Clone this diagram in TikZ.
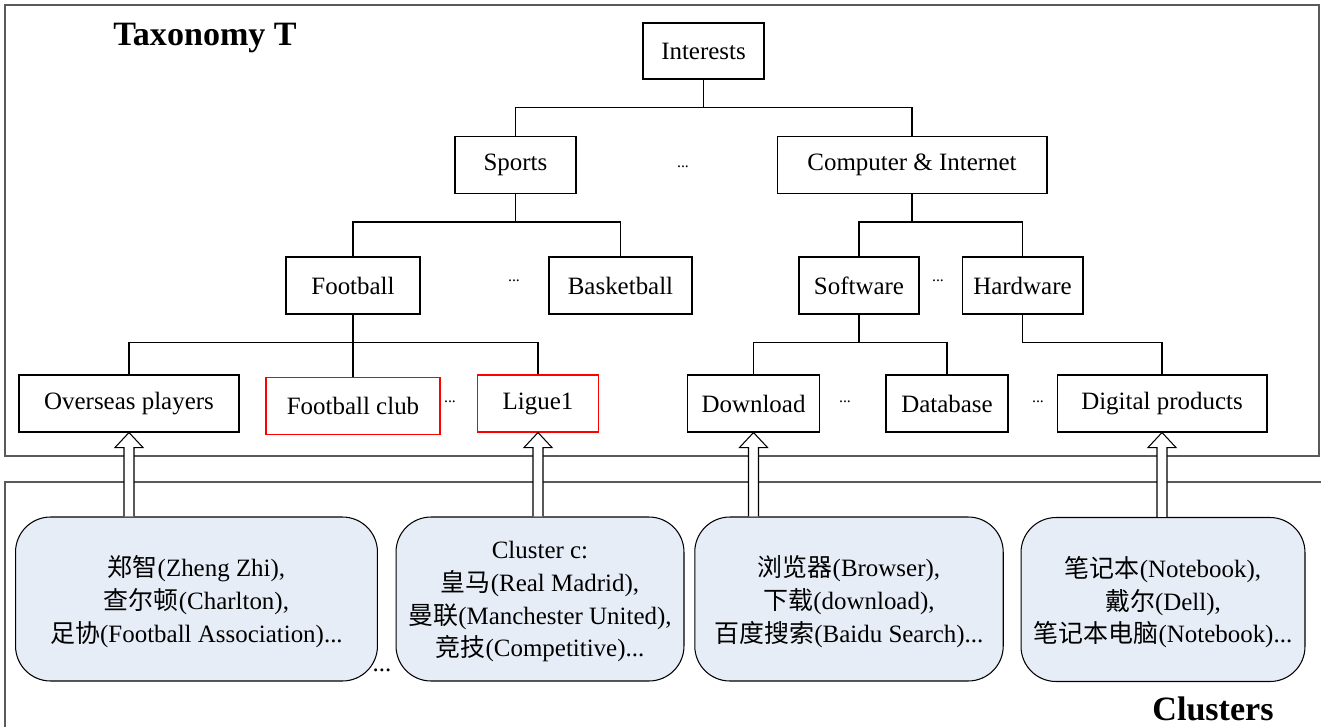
\documentclass[tikz,border=0pt]{standalone}
\usepackage{fontspec}
\setmainfont{Liberation Serif}
\newfontfamily\cjk{Noto Sans CJK SC}
\newcommand\zh[1]{{\cjk #1}}
\usetikzlibrary{calc}
\definecolor{clusterfill}{RGB}{231,237,247}
\definecolor{framegray}{RGB}{90,90,90}
\tikzset{
  taxbox/.style={draw, line width=0.6pt, minimum height=1.14cm, inner sep=0pt, font=\fontsize{14.2}{17}\selectfont},
  redbox/.style={taxbox, draw=red},
  clusterbox/.style={draw, line width=0.6pt, fill=clusterfill, rounded corners=0.7cm, minimum height=3.28cm,
    inner sep=0pt, align=center, font=\fontsize{14.2}{18.7}\selectfont, text depth=0pt},
  treeline/.style={line width=0.6pt},
  dots/.style={inner sep=0pt, font=\small},
  title/.style={anchor=base, font=\fontsize{19.4}{22}\selectfont\bfseries}
}
\newcommand\hollowarrow[2]{%
  \draw[line width=0.6pt, fill=white]
    ($(#1.north -| #2.south)+(-5,0)$) -- ($(#2.south)+(-5,15)$) -- ($(#2.south)+(-14,15)$)
    -- (#2.south) -- ($(#2.south)+(14,15)$) -- ($(#2.south)+(5,15)$)
    -- ($(#1.north -| #2.south)+(5,0)$);}
\begin{document}
\begin{tikzpicture}[x=0.02cm, y=-0.02cm]
  \useasboundingbox (0,0) rectangle (1321,727);
  \draw[framegray, line width=0.6pt] (5,5) rectangle (1319,456);
  \draw[framegray, line width=0.6pt] (5,727) -- (5,482) -- (1321,482);

  \node[title] (taxtitle) at (205,45) {Taxonomy T};
  \node[title] (clustitle) at (1213,720) {Clusters};

  \node[taxbox, minimum width=2.42cm, minimum height=1.12cm] (interests) at (703.5,51) {Interests};
  \node[taxbox, minimum width=2.42cm] (sports) at (515.5,165) {Sports};
  \node[taxbox, minimum width=5.4cm] (computer) at (912,165) {Computer \& Internet};
  \node[taxbox, minimum width=2.68cm] (football) at (353,285.5) {Football};
  \node[taxbox, minimum width=2.86cm] (basketball) at (620.5,285.5) {Basketball};
  \node[taxbox, minimum width=2.4cm] (software) at (859,285.5) {Software};
  \node[taxbox, minimum width=2.42cm] (hardware) at (1022.5,285.5) {Hardware};
  \node[taxbox, minimum width=4.4cm] (overseas) at (129,403.5) {Overseas players};
  \node[redbox, minimum width=3.48cm] (club) at (353,406) {Football club};
  \node[redbox, minimum width=2.42cm] (ligue) at (538,403.5) {Ligue1};
  \node[taxbox, minimum width=2.64cm] (download) at (753.5,403.5) {Download};
  \node[taxbox, minimum width=2.44cm] (database) at (947,403.5) {Database};
  \node[taxbox, minimum width=4.2cm] (digital) at (1162,403.5) {Digital products};

  \node[dots] (dotsa) at (683,167) {...};
  \node[dots] (dotsb) at (514,281) {...};
  \node[dots] (dotsc) at (938,281) {...};
  \node[dots] (dotsd) at (450,402) {...};
  \node[dots] (dotse) at (845,402) {...};
  \node[dots] (dotsf) at (1038,402) {...};
  \node[inner sep=0pt, font=\fontsize{14.2}{17}\selectfont] (dotsg) at (382,670) {...};

  \draw[treeline] (interests.south) -- ++(0,28) coordinate (ia);
  \draw[treeline] (sports.north) |- (ia) -| (computer.north);
  \draw[treeline] (sports.south) -- ++(0,28) coordinate (sa);
  \draw[treeline] (football.north) |- (sa) -| (basketball.north);
  \draw[treeline] (computer.south) -- ++(0,28) coordinate (ca);
  \draw[treeline] (software.north) |- (ca) -| (hardware.north);
  \draw[treeline] (football.south) -- ++(0,28) coordinate (fa);
  \draw[treeline] (overseas.north) |- (fa) -| (ligue.north);
  \draw[treeline] (fa) -- (club.north);
  \draw[treeline] (software.south) -- ++(0,28) coordinate (wa);
  \draw[treeline] (download.north) |- (wa) -| (database.north);
  \draw[treeline] (hardware.south) |- ++(0,28) -| (digital.north);

  \node[clusterbox, minimum width=7.24cm] (clusta) at (196.5,599)
    {\zh{郑智}(Zheng Zhi),\\ \zh{查尔顿}(Charlton),\\ \zh{足协}(Football Association)...};
  \node[clusterbox, minimum width=5.76cm] (clustb) at (540,599)
    {Cluster c:\\ \zh{皇马}(Real Madrid),\\ \zh{曼联}(Manchester United),\\ \zh{竞技}(Competitive)...};
  \node[clusterbox, minimum width=6.17cm] (clustc) at (849,599)
    {\zh{浏览器}(Browser),\\ \zh{下载}(download),\\ \zh{百度搜索}(Baidu Search)...};
  \node[clusterbox, minimum width=5.68cm] (clustd) at (1163,599.5)
    {\zh{笔记本}(Notebook),\\ \zh{戴尔}(Dell),\\ \zh{笔记本电脑}(Notebook)...};

  \hollowarrow{clusta}{overseas}
  \hollowarrow{clustb}{ligue}
  \hollowarrow{clustc}{download}
  \hollowarrow{clustd}{digital}
\end{tikzpicture}
\end{document}
